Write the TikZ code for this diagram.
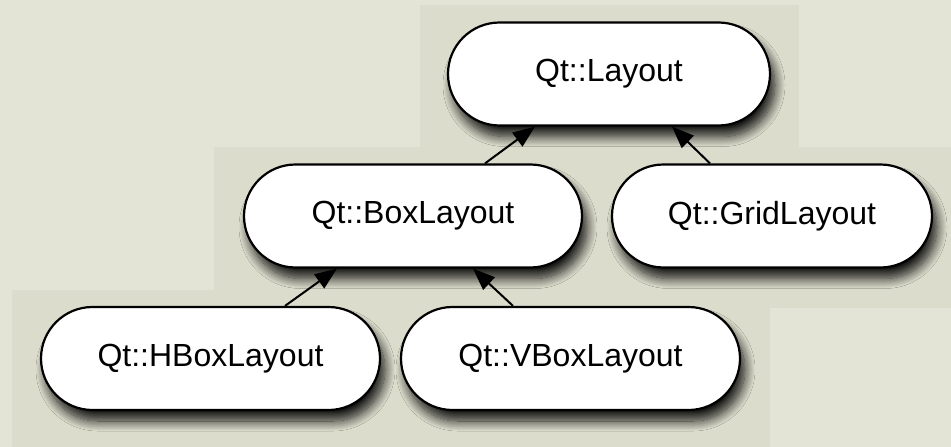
\documentclass[tikz,border=0pt]{standalone}
\usepackage{fontspec}
\setmainfont{Liberation Sans}
\usetikzlibrary{shapes.misc,arrows.meta,shadows.blur}
\definecolor{bglight}{RGB}{227,227,214}
\definecolor{bgdark}{RGB}{220,220,204}
\tikzset{
  classbox/.style={rounded rectangle, rounded rectangle arc length=180,
    draw=black, line width=2.2pt, fill=white, inner sep=0pt,
    minimum height=103pt,
    font=\fontsize{32}{36}\selectfont,
    blur shadow={shadow xshift=5pt, shadow yshift=-11pt, shadow blur radius=10pt,
      shadow blur steps=14, shadow opacity=90}},
  inherit/.style={draw=black, line width=2pt,
    -{Triangle[length=22pt,width=17pt]}}
}
\begin{document}
\begin{tikzpicture}[x=1pt,y=-1pt]
\useasboundingbox (0,0) rectangle (951,447);
\fill[bglight] (0,0) rectangle (951,447);
\fill[bgdark] (420,5) rectangle (799,147);
\fill[bgdark] (214,147) rectangle (951,308);
\fill[bgdark] (12,290) rectangle (770,447);

\node[classbox, minimum width=322pt] (layout) at (609,74) {\raisebox{-1pt}{Qt::Layout}};
\node[classbox, minimum width=338pt] (box) at (413,216) {\raisebox{-1pt}{Qt::BoxLayout}};
\node[classbox, minimum width=320pt] (grid) at (772,216) {\raisebox{-1pt}{Qt::GridLayout}};
\node[classbox, minimum width=339pt] (hbox) at (210.5,358.5) {\raisebox{-1pt}{Qt::HBoxLayout}};
\node[classbox, minimum width=339pt] (vbox) at (570.5,358.5) {\raisebox{-1pt}{Qt::VBoxLayout}};

\draw[inherit] ([xshift=74.5pt]hbox.north) -- ([xshift=-76pt]box.south);
\draw[inherit] ([xshift=-57.5pt]vbox.north) -- ([xshift=60pt]box.south);
\draw[inherit] ([xshift=72pt]box.north) -- ([xshift=-74pt]layout.south);
\draw[inherit] ([xshift=-62pt]grid.north) -- ([xshift=63pt]layout.south);
\end{tikzpicture}
\end{document}
